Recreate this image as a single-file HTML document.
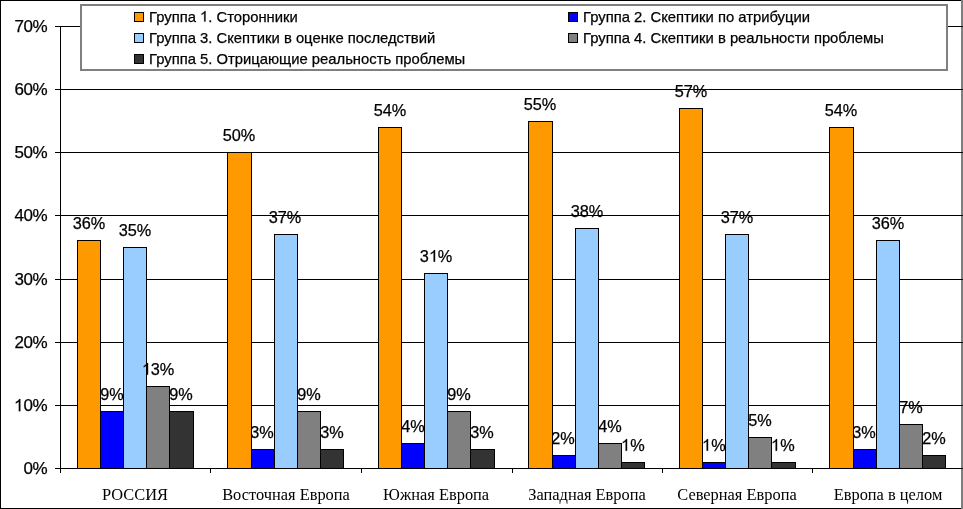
<!DOCTYPE html>
<html><head><meta charset="utf-8"><style>
html,body{margin:0;padding:0;background:#fff;}
body{-webkit-font-smoothing:antialiased;width:963px;height:509px;position:relative;overflow:hidden;font-family:"Liberation Sans",sans-serif;color:#000;}
.a{position:absolute;}
.t{position:absolute;will-change:transform;-webkit-text-stroke:0.25px #000;white-space:nowrap;line-height:1;}
.v{font-size:16.3px;width:60px;text-align:center;}
.ax{font-size:17px;letter-spacing:-0.5px;width:50px;text-align:right;}
.c{-webkit-text-stroke:0;font-family:"Liberation Serif",serif;font-size:16.4px;width:150px;text-align:center;}
.lg{font-size:14.8px;}
.one{width:0.556em;height:0.716em;vertical-align:baseline;fill:#000;stroke:#000;stroke-width:32;overflow:visible;}
.b{position:absolute;box-sizing:border-box;border:1px solid #000;}
.sq{position:absolute;box-sizing:border-box;border:1px solid #000;width:10px;height:10px;}
</style></head><body>

<div class="a" style="left:0;top:0;width:963px;height:1px;background:#000"></div>
<div class="a" style="left:0;top:0;width:1px;height:509px;background:#000"></div>
<div class="a" style="left:0;top:508px;width:963px;height:1px;background:#000"></div>
<div class="a" style="left:961px;top:0;width:2px;height:509px;background:#808080"></div>
<div class="a" style="left:55px;top:468px;width:908px;height:1px;background:#000"></div>
<div class="t ax" style="left:0px;top:460px;width:47px">0%</div>
<div class="a" style="left:55px;top:405px;width:908px;height:1px;background:#000"></div>
<div class="t ax" style="left:0px;top:397px;width:47px"><svg class="one" viewBox="0 0 1139 1466"><path transform="matrix(1,0,0,-1,0,1466)" d="M763 0L583 0L583 1147L222 925L222 1100L470 1255L590 1370L660 1466L763 1466Z"/></svg>0%</div>
<div class="a" style="left:55px;top:342px;width:908px;height:1px;background:#000"></div>
<div class="t ax" style="left:0px;top:334px;width:47px">20%</div>
<div class="a" style="left:55px;top:279px;width:908px;height:1px;background:#000"></div>
<div class="t ax" style="left:0px;top:271px;width:47px">30%</div>
<div class="a" style="left:55px;top:215px;width:908px;height:1px;background:#000"></div>
<div class="t ax" style="left:0px;top:207px;width:47px">40%</div>
<div class="a" style="left:55px;top:152px;width:908px;height:1px;background:#000"></div>
<div class="t ax" style="left:0px;top:144px;width:47px">50%</div>
<div class="a" style="left:55px;top:89px;width:908px;height:1px;background:#000"></div>
<div class="t ax" style="left:0px;top:81px;width:47px">60%</div>
<div class="a" style="left:55px;top:26px;width:908px;height:1px;background:#000"></div>
<div class="t ax" style="left:0px;top:18px;width:47px">70%</div>
<div class="a" style="left:60px;top:26px;width:1px;height:443px;background:#000"></div>
<div class="a" style="left:60px;top:468px;width:1px;height:5px;background:#000"></div>
<div class="a" style="left:210px;top:468px;width:1px;height:5px;background:#000"></div>
<div class="a" style="left:361px;top:468px;width:1px;height:5px;background:#000"></div>
<div class="a" style="left:512px;top:468px;width:1px;height:5px;background:#000"></div>
<div class="a" style="left:662px;top:468px;width:1px;height:5px;background:#000"></div>
<div class="a" style="left:812px;top:468px;width:1px;height:5px;background:#000"></div>
<div class="a" style="left:963px;top:468px;width:1px;height:5px;background:#000"></div>
<div class="b" style="left:77px;top:240px;width:24px;height:229px;background:#FF9900"></div>
<div class="b" style="left:100px;top:411px;width:24px;height:58px;background:#0000FF"></div>
<div class="b" style="left:123px;top:247px;width:24px;height:222px;background:#99CCFF"></div>
<div class="b" style="left:146px;top:386px;width:24px;height:83px;background:#808080"></div>
<div class="b" style="left:169px;top:411px;width:25px;height:58px;background:#333333"></div>
<div class="t c" style="left:60.0px;top:486.5px">РОССИЯ</div>
<div class="b" style="left:227px;top:152px;width:25px;height:317px;background:#FF9900"></div>
<div class="b" style="left:251px;top:449px;width:24px;height:20px;background:#0000FF"></div>
<div class="b" style="left:274px;top:234px;width:24px;height:235px;background:#99CCFF"></div>
<div class="b" style="left:297px;top:411px;width:24px;height:58px;background:#808080"></div>
<div class="b" style="left:320px;top:449px;width:24px;height:20px;background:#333333"></div>
<div class="t c" style="left:210.5px;top:486.5px">Восточная Европа</div>
<div class="b" style="left:378px;top:127px;width:24px;height:342px;background:#FF9900"></div>
<div class="b" style="left:401px;top:443px;width:24px;height:26px;background:#0000FF"></div>
<div class="b" style="left:424px;top:273px;width:24px;height:196px;background:#99CCFF"></div>
<div class="b" style="left:447px;top:411px;width:24px;height:58px;background:#808080"></div>
<div class="b" style="left:470px;top:449px;width:25px;height:20px;background:#333333"></div>
<div class="t c" style="left:361.0px;top:486.5px">Южная Европа</div>
<div class="b" style="left:528px;top:121px;width:25px;height:348px;background:#FF9900"></div>
<div class="b" style="left:552px;top:455px;width:24px;height:14px;background:#0000FF"></div>
<div class="b" style="left:575px;top:228px;width:24px;height:241px;background:#99CCFF"></div>
<div class="b" style="left:598px;top:443px;width:24px;height:26px;background:#808080"></div>
<div class="b" style="left:621px;top:462px;width:24px;height:7px;background:#333333"></div>
<div class="t c" style="left:511.5px;top:486.5px">Западная Европа</div>
<div class="b" style="left:679px;top:108px;width:24px;height:361px;background:#FF9900"></div>
<div class="b" style="left:702px;top:462px;width:24px;height:7px;background:#0000FF"></div>
<div class="b" style="left:725px;top:234px;width:24px;height:235px;background:#99CCFF"></div>
<div class="b" style="left:748px;top:437px;width:24px;height:32px;background:#808080"></div>
<div class="b" style="left:771px;top:462px;width:25px;height:7px;background:#333333"></div>
<div class="t c" style="left:662.0px;top:486.5px">Северная Европа</div>
<div class="b" style="left:829px;top:127px;width:25px;height:342px;background:#FF9900"></div>
<div class="b" style="left:853px;top:449px;width:24px;height:20px;background:#0000FF"></div>
<div class="b" style="left:876px;top:240px;width:24px;height:229px;background:#99CCFF"></div>
<div class="b" style="left:899px;top:424px;width:24px;height:45px;background:#808080"></div>
<div class="b" style="left:922px;top:455px;width:24px;height:14px;background:#333333"></div>
<div class="t c" style="left:812.5px;top:486.5px">Европа в целом</div>
<div class="t v" style="left:58.6px;top:215px">36%</div>
<div class="t v" style="left:81.8px;top:386px">9%</div>
<div class="t v" style="left:105.0px;top:222px">35%</div>
<div class="t v" style="left:128.1px;top:361px"><svg class="one" viewBox="0 0 1139 1466"><path transform="matrix(1,0,0,-1,0,1466)" d="M763 0L583 0L583 1147L222 925L222 1100L470 1255L590 1370L660 1466L763 1466Z"/></svg>3%</div>
<div class="t v" style="left:151.3px;top:386px">9%</div>
<div class="t v" style="left:209.1px;top:127px">50%</div>
<div class="t v" style="left:232.3px;top:424px">3%</div>
<div class="t v" style="left:255.4px;top:209px">37%</div>
<div class="t v" style="left:278.6px;top:386px">9%</div>
<div class="t v" style="left:301.8px;top:424px">3%</div>
<div class="t v" style="left:359.6px;top:102px">54%</div>
<div class="t v" style="left:382.8px;top:418px">4%</div>
<div class="t v" style="left:406.0px;top:248px">3<svg class="one" viewBox="0 0 1139 1466"><path transform="matrix(1,0,0,-1,0,1466)" d="M763 0L583 0L583 1147L222 925L222 1100L470 1255L590 1370L660 1466L763 1466Z"/></svg>%</div>
<div class="t v" style="left:429.1px;top:386px">9%</div>
<div class="t v" style="left:452.3px;top:424px">3%</div>
<div class="t v" style="left:510.1px;top:96px">55%</div>
<div class="t v" style="left:533.3px;top:430px">2%</div>
<div class="t v" style="left:556.5px;top:203px">38%</div>
<div class="t v" style="left:579.6px;top:418px">4%</div>
<div class="t v" style="left:602.8px;top:437px"><svg class="one" viewBox="0 0 1139 1466"><path transform="matrix(1,0,0,-1,0,1466)" d="M763 0L583 0L583 1147L222 925L222 1100L470 1255L590 1370L660 1466L763 1466Z"/></svg>%</div>
<div class="t v" style="left:660.6px;top:83px">57%</div>
<div class="t v" style="left:683.8px;top:437px"><svg class="one" viewBox="0 0 1139 1466"><path transform="matrix(1,0,0,-1,0,1466)" d="M763 0L583 0L583 1147L222 925L222 1100L470 1255L590 1370L660 1466L763 1466Z"/></svg>%</div>
<div class="t v" style="left:707.0px;top:209px">37%</div>
<div class="t v" style="left:730.1px;top:412px">5%</div>
<div class="t v" style="left:753.3px;top:437px"><svg class="one" viewBox="0 0 1139 1466"><path transform="matrix(1,0,0,-1,0,1466)" d="M763 0L583 0L583 1147L222 925L222 1100L470 1255L590 1370L660 1466L763 1466Z"/></svg>%</div>
<div class="t v" style="left:811.1px;top:102px">54%</div>
<div class="t v" style="left:834.3px;top:424px">3%</div>
<div class="t v" style="left:857.5px;top:215px">36%</div>
<div class="t v" style="left:880.6px;top:399px">7%</div>
<div class="t v" style="left:903.8px;top:430px">2%</div>
<div class="a" style="left:80px;top:4px;width:868px;height:67px;box-sizing:border-box;border:2px solid #808080;background:#fff"></div>
<div class="sq" style="left:134px;top:12px;background:#FF9900"></div>
<div class="t lg" style="left:149px;top:10px">Группа <svg class="one" viewBox="0 0 1139 1466"><path transform="matrix(1,0,0,-1,0,1466)" d="M763 0L583 0L583 1147L222 925L222 1100L470 1255L590 1370L660 1466L763 1466Z"/></svg>. Сторонники</div>
<div class="sq" style="left:568px;top:12px;background:#0000FF"></div>
<div class="t lg" style="left:583px;top:10px">Группа 2. Скептики по атрибуции</div>
<div class="sq" style="left:134px;top:33px;background:#99CCFF"></div>
<div class="t lg" style="left:149px;top:31px">Группа 3. Скептики в оценке последствий</div>
<div class="sq" style="left:568px;top:33px;background:#808080"></div>
<div class="t lg" style="left:583px;top:31px">Группа 4. Скептики в реальности проблемы</div>
<div class="sq" style="left:134px;top:54px;background:#333333"></div>
<div class="t lg" style="left:149px;top:52px">Группа 5. Отрицающие реальность проблемы</div>
</body></html>
